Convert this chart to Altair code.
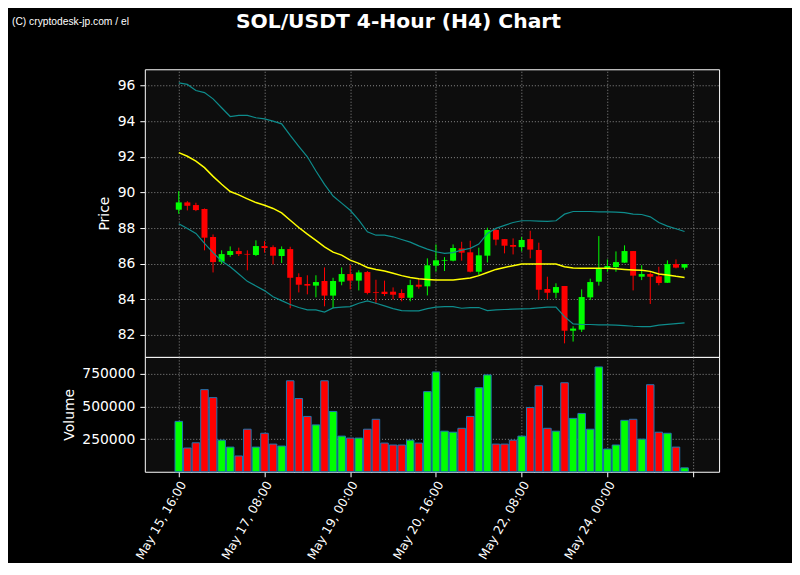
import altair as alt
import pandas as pd

# ---- data ----
opens = [89.03, 89.44, 89.29, 89.07, 87.50, 86.11, 86.49, 86.71, 86.55, 86.49,
         86.99, 86.93, 86.43, 86.82, 85.25, 84.86, 84.77, 85.03, 84.21, 84.99,
         85.42, 85.05, 85.53, 84.41, 84.43, 84.43, 84.36, 84.09, 84.82, 84.73,
         85.89, 86.17, 86.17, 86.86, 86.64, 85.55, 86.45, 87.89, 87.38, 87.05,
         86.93, 87.38, 86.77, 84.58, 84.37, 84.75, 82.24, 82.30, 84.11, 84.99,
         85.74, 85.81, 86.06, 86.71, 85.27, 85.42, 85.29, 84.93, 85.98, 85.78]
highs = [90.07, 89.51, 89.42, 89.10, 87.64, 86.75, 86.97, 86.90, 86.75, 87.31,
         87.27, 87.03, 86.97, 86.95, 85.46, 85.35, 85.35, 85.79, 85.21, 85.79,
         85.93, 85.63, 85.59, 85.10, 85.05, 84.67, 84.56, 85.10, 85.16, 86.30,
         87.08, 86.37, 87.08, 87.23, 87.29, 86.90, 88.02, 87.94, 87.38, 87.42,
         87.50, 87.85, 87.18, 85.27, 84.90, 84.75, 82.49, 84.56, 85.16, 87.55,
         86.24, 86.69, 87.03, 86.71, 85.91, 85.59, 85.83, 86.19, 86.24, 85.98]
lows = [88.80, 88.99, 88.95, 86.75, 85.51, 85.98, 86.39, 86.43, 85.63, 86.43,
        86.62, 85.96, 86.04, 83.50, 84.39, 84.28, 84.11, 83.61, 83.50, 84.79,
        84.56, 84.50, 84.28, 83.74, 84.19, 84.00, 83.89, 83.89, 84.60, 84.22,
        85.55, 85.59, 86.13, 86.17, 85.51, 85.36, 86.07, 87.03, 86.58, 86.52,
        86.69, 86.30, 83.98, 84.02, 84.06, 81.53, 81.63, 82.17, 83.96, 84.77,
        85.55, 85.55, 86.04, 84.50, 85.08, 83.74, 84.79, 84.92, 85.74, 85.66]
closes = [89.44, 89.25, 89.01, 87.46, 86.09, 86.54, 86.71, 86.54, 86.51, 86.99,
          86.88, 86.45, 86.82, 85.21, 84.82, 84.77, 84.97, 84.21, 85.03, 85.42,
          85.05, 85.51, 84.36, 84.37, 84.30, 84.26, 84.07, 84.80, 84.71, 85.91,
          86.19, 86.21, 86.88, 86.62, 85.55, 86.47, 87.89, 87.35, 87.01, 86.95,
          87.33, 86.79, 84.54, 84.37, 84.69, 82.24, 82.36, 84.13, 84.97, 85.72,
          85.87, 86.09, 86.71, 85.33, 85.42, 85.27, 84.92, 85.98, 85.78, 85.98]
volumes = [386000, 182000, 222000, 629000, 568000, 242000, 189000, 121000, 326000, 189000,
           295000, 212000, 197000, 697000, 561000, 424000, 359000, 697000, 462000, 273000,
           258000, 258000, 326000, 402000, 220000, 205000, 205000, 242000, 220000, 614000,
           765000, 311000, 303000, 333000, 424000, 644000, 742000, 212000, 212000, 242000,
           273000, 492000, 659000, 333000, 311000, 682000, 409000, 447000, 326000, 803000,
           174000, 205000, 394000, 402000, 250000, 667000, 303000, 295000, 189000, 30000]
upper = [96.15, 96.06, 95.72, 95.60, 95.25, 94.75, 94.26, 94.32, 94.32, 94.19,
         94.13, 94.00, 93.85, 93.20, 92.59, 92.00, 91.20, 90.45, 89.80, 89.40,
         89.00, 88.44, 87.79, 87.60, 87.60, 87.51, 87.36, 87.21, 87.00, 86.82,
         86.67, 86.58, 86.62, 86.76, 86.86, 87.10, 87.70, 87.98, 88.15, 88.31,
         88.41, 88.41, 88.39, 88.37, 88.41, 88.78, 88.93, 88.93, 88.93, 88.91,
         88.91, 88.89, 88.87, 88.78, 88.76, 88.63, 88.31, 88.11, 87.96, 87.81]
middle = [92.23, 92.03, 91.76, 91.39, 90.90, 90.46, 90.05, 89.86, 89.64, 89.43,
          89.28, 89.10, 88.85, 88.44, 88.03, 87.66, 87.31, 86.95, 86.65, 86.48,
          86.20, 86.02, 85.79, 85.68, 85.59, 85.46, 85.33, 85.23, 85.16, 85.12,
          85.09, 85.09, 85.09, 85.14, 85.20, 85.33, 85.51, 85.68, 85.79, 85.89,
          85.98, 85.98, 85.98, 85.98, 85.98, 85.83, 85.76, 85.74, 85.74, 85.74,
          85.74, 85.72, 85.68, 85.65, 85.63, 85.57, 85.42, 85.37, 85.29, 85.23]
lower = [88.24, 87.98, 87.70, 87.14, 86.62, 86.15, 85.83, 85.42, 85.01, 84.75,
         84.49, 84.15, 83.93, 83.71, 83.54, 83.41, 83.41, 83.29, 83.52, 83.56,
         83.59, 83.78, 83.91, 83.78, 83.63, 83.48, 83.37, 83.35, 83.35, 83.48,
         83.56, 83.59, 83.59, 83.50, 83.54, 83.54, 83.37, 83.41, 83.43, 83.45,
         83.46, 83.48, 83.52, 83.56, 83.57, 83.03, 82.62, 82.59, 82.59, 82.57,
         82.57, 82.55, 82.53, 82.49, 82.47, 82.47, 82.55, 82.60, 82.64, 82.68]

tick_positions = [0, 10, 20, 30, 40, 50, 60]
tick_labels = ["May 15, 16:00", "May 17, 08:00", "May 19, 00:00", "May 20, 16:00",
               "May 22, 08:00", "May 24, 00:00", ""]
price_ticks = [82, 84, 86, 88, 90, 92, 94, 96]
volume_ticks = [250000, 500000, 750000]

title_text = "SOL/USDT 4-Hour (H4) Chart"
credit_text = "(C) cryptodesk-jp.com / el"

# ---- build table ----
n = len(opens)
df = pd.DataFrame({
    "i": list(range(n)), "open": opens, "high": highs, "low": lows, "close": closes,
    "volume": volumes, "upper": upper, "middle": middle, "lower": lower,
})
df["color"] = ["#00ff00" if c >= o else "#ff0000" for o, c in zip(opens, closes)]
df["b0"] = df["i"] - 0.35
df["b1"] = df["i"] + 0.35
df["v0"] = df["i"] - 0.44
df["v1"] = df["i"] + 0.44
df["body_lo"] = df[["open", "close"]].min(axis=1)
df["body_hi"] = df[["open", "close"]].max(axis=1)

FONT = "DejaVu Sans"
xscale = alt.Scale(domain=[-3.96, 63.03], nice=False, zero=False)
pscale = alt.Scale(domain=[80.77, 96.91], nice=False, zero=False)
vscale = alt.Scale(domain=[0, 880000], nice=False, zero=False)

grid_kw = dict(grid=True, gridColor="#aaaaaa", gridDash=[1, 2], gridOpacity=0.9, gridWidth=0.9)

x_hidden = alt.Axis(values=tick_positions, labels=False, ticks=False, domain=False, title=None,
                    orient="top", minExtent=0, maxExtent=0, **grid_kw)
label_expr = "[" + ",".join("'" + s + "'" for s in tick_labels) + "][round(datum.value / 10)]"
x_shown = alt.Axis(values=tick_positions, labelExpr=label_expr, labelAngle=300, labelAlign="right",
                   labelBaseline="middle", labelPadding=5, labelOffset=4, tickSize=5, tickColor="white",
                   domain=False, title=None, labelColor="white", labelFont=FONT, labelFontSize=12.3,
                   **grid_kw)

base = alt.Chart(df)

wicks = base.mark_rule(strokeWidth=1).encode(
    x=alt.X("i:Q", scale=xscale, axis=x_hidden),
    y=alt.Y("low:Q", scale=pscale,
            axis=alt.Axis(values=price_ticks, format="d", title="Price", tickSize=5, tickColor="white",
                          labelPadding=5, titlePadding=6, domain=False, **grid_kw)),
    y2="high:Q",
    color=alt.Color("color:N", scale=None),
)
bodies = base.mark_rect().encode(
    x="b0:Q", x2="b1:Q", y="body_lo:Q", y2="body_hi:Q",
    color=alt.Color("color:N", scale=None),
)
upper_line = base.mark_line(color="#0e8c8c", strokeWidth=1.2).encode(x="i:Q", y="upper:Q")
lower_line = base.mark_line(color="#0e8c8c", strokeWidth=1.2).encode(x="i:Q", y="lower:Q")
mid_line = base.mark_line(color="#ffff00", strokeWidth=1.5).encode(x="i:Q", y="middle:Q")

title_mark = alt.Chart(pd.DataFrame({"t": [title_text]})).mark_text(
    font=FONT, fontSize=20.3, fontWeight="bold", color="white", align="center", baseline="top"
).encode(x=alt.value(254), y=alt.value(-57), text="t:N")
credit_mark = alt.Chart(pd.DataFrame({"t": [credit_text]})).mark_text(
    font="Liberation Sans", fontSize=10.3, color="white", align="left", baseline="middle"
).encode(x=alt.value(-133), y=alt.value(-47), text="t:N")

price = alt.layer(wicks, bodies, upper_line, lower_line, mid_line, title_mark, credit_mark).properties(
    width=575, height=288)

vol = base.mark_rect(stroke="#1f77b4", strokeWidth=1).encode(
    x=alt.X("v0:Q", scale=xscale, axis=x_shown),
    x2="v1:Q",
    y=alt.Y("volume:Q", scale=vscale,
            axis=alt.Axis(values=volume_ticks, format="d", title="Volume", tickSize=5, tickColor="white",
                          labelPadding=5, titlePadding=5, domain=False, **grid_kw)),
    y2=alt.datum(0),
    color=alt.Color("color:N", scale=None),
).properties(width=575, height=115)

chart = alt.vconcat(price, vol, spacing=0, bounds="flush").properties(
    background="black",
    padding={"left": 3, "top": 3, "right": 72, "bottom": 0},
).configure_view(
    fill="#0d0d0d", stroke="white", strokeWidth=1
).configure_axis(
    labelColor="white", labelFont=FONT, labelFontSize=13.9,
    titleColor="white", titleFont=FONT, titleFontSize=13.9, titleFontWeight="normal",
)

chart.save("out.html", embed_options={"renderer": "svg", "actions": False})
